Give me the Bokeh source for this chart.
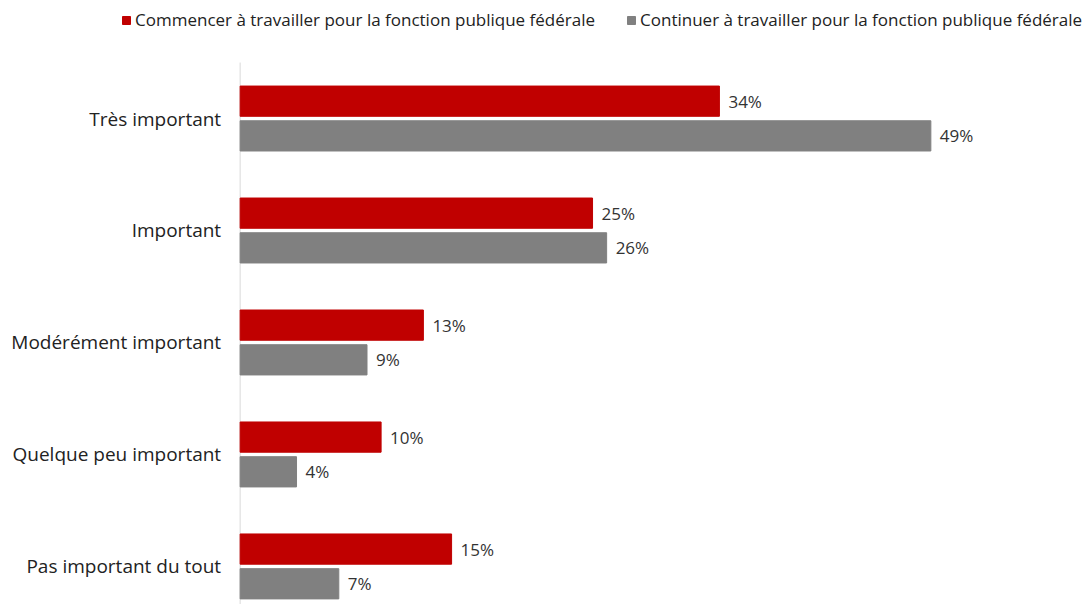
from bokeh.plotting import figure
from bokeh.models import ColumnDataSource, Range1d, Legend, LegendItem
from bokeh.core.properties import value
from bokeh.embed import file_html
from bokeh.resources import INLINE

categories = ["Très important", "Important", "Modérément important",
              "Quelque peu important", "Pas important du tout"]
commencer = [34, 25, 13, 10, 15]
continuer = [49, 26, 9, 4, 7]
series_names = ["Commencer à travailler pour la fonction publique fédérale",
                "Continuer à travailler pour la fonction publique fédérale"]
colors = ["#C00000", "#808080"]

FONT = "Open Sans"
n = len(categories)
ypos = [n - 1 - i for i in range(n)]
off = 0.155
src1 = ColumnDataSource(dict(y=[v + off for v in ypos], x=commencer,
                             lab=[f"{v}%" for v in commencer]))
src2 = ColumnDataSource(dict(y=[v - off for v in ypos], x=continuer,
                             lab=[f"{v}%" for v in continuer]))
src_cat = ColumnDataSource(dict(y=ypos, x=[0] * n, lab=categories))

y_lo, y_top_cat, y_hi = -0.34, n - 0.5, n + 0.054
p = figure(width=1084, height=604, output_backend="svg", toolbar_location=None,
           x_range=Range1d(-17.0, 59.9), y_range=Range1d(y_lo, y_hi),
           min_border_left=0, min_border_right=0, min_border_top=0,
           min_border_bottom=0)
p.outline_line_color = None
p.background_fill_color = "white"
p.border_fill_color = "white"
p.grid.visible = False
p.axis.visible = False

# vertical category axis line
p.segment(x0=[0], x1=[0], y0=[y_lo], y1=[y_top_cat], line_color="#D9D9D9",
          line_width=1)

r1 = p.hbar(y="y", right="x", left=0, height=0.27, source=src1, color=colors[0])
r2 = p.hbar(y="y", right="x", left=0, height=0.27, source=src2, color=colors[1])

for s in (src1, src2):
    p.text(x="x", y="y", text="lab", source=s, x_offset=9, text_baseline="middle",
           text_align="left", text_font=value(FONT), text_font_size="17px",
           text_color="#333333")

# category labels
p.text(x="x", y="y", text="lab", source=src_cat, x_offset=-19,
       text_baseline="middle", text_align="right", text_font=value(FONT),
       text_font_size="19px", text_color="#222222")

legend = Legend(items=[LegendItem(label=series_names[0], renderers=[r1]),
                       LegendItem(label=series_names[1], renderers=[r2])],
                orientation="horizontal", location=(121, 573),
                glyph_width=10, glyph_height=10, spacing=31, padding=0,
                margin=0, label_standoff=4, border_line_color=None,
                background_fill_alpha=0, label_text_font=FONT,
                label_text_font_size="17px", label_text_color="#222222")
p.add_layout(legend, "center")

open("out.html", "w").write(file_html(p, INLINE))
